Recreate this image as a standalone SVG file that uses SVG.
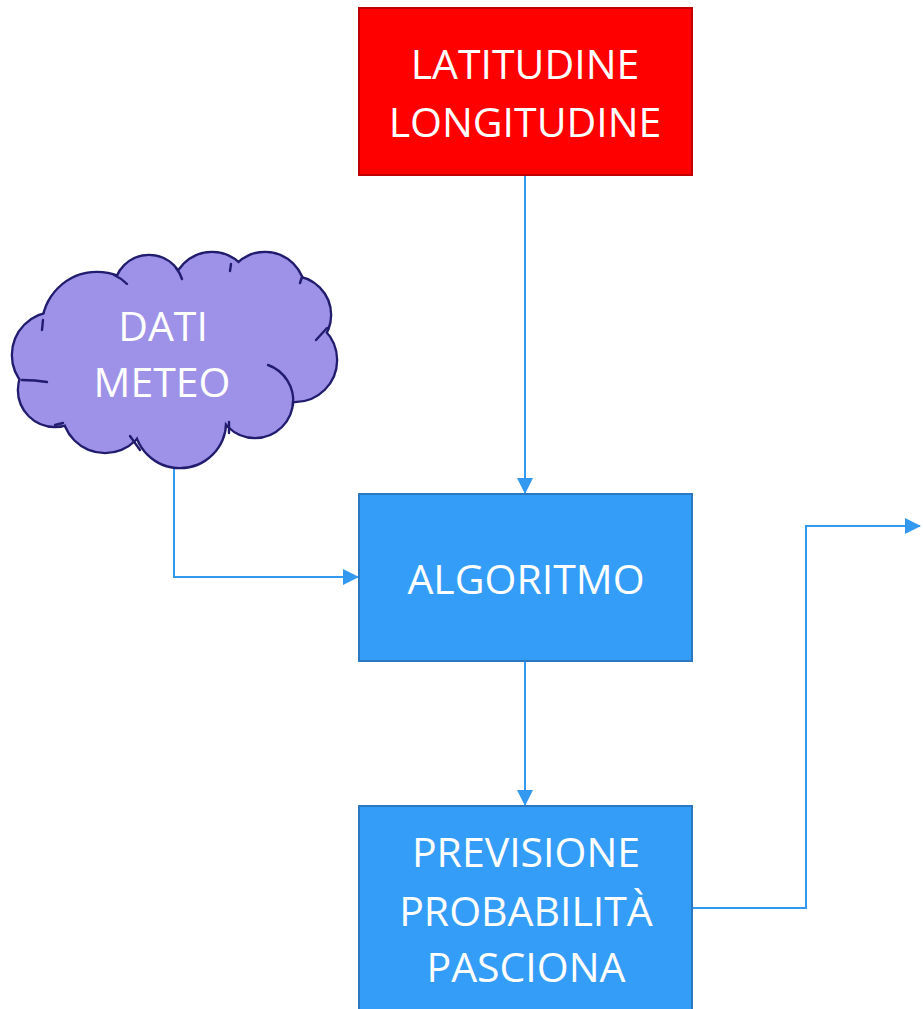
<svg xmlns="http://www.w3.org/2000/svg" width="923" height="1009" viewBox="0 0 923 1009">
<defs>
<marker id="arr" markerUnits="userSpaceOnUse" markerWidth="16" markerHeight="16" viewBox="0 0 16 16" refX="15" refY="8" orient="auto">
<path d="M0,0 L16,8 L0,16 Z" fill="#3399F0"/>
</marker>
</defs>
<style>
.lbl{font-family:"Open Sans","Liberation Sans",sans-serif;font-size:41px;fill:#ffffff;text-anchor:middle}
.blue{fill:#349DF8;stroke:#2B78C2;stroke-width:2}
.conn{fill:none;stroke:#3399F0;stroke-width:2}
.cs{fill:#9E92E8;stroke:#211C6E;stroke-width:4.6}
.cf{fill:#9E92E8;stroke:none}
.ci{fill:none;stroke:#211C6E;stroke-width:2.4;stroke-linecap:round}
</style>
<rect width="923" height="1009" fill="#ffffff"/>
<g id="connectors">
<path class="conn" d="M525,176 V493" marker-end="url(#arr)"/>
<path class="conn" d="M174,467 V577 H358" marker-end="url(#arr)"/>
<path class="conn" d="M525,662 V805" marker-end="url(#arr)"/>
<path class="conn" d="M693,908 H806 V526 H920" marker-end="url(#arr)"/>
</g>
<g id="latlon">
<rect x="359" y="8" width="333" height="167" fill="#FF0000" stroke="#C00000" stroke-width="2"/>
<text class="lbl" x="525" y="79">LATITUDINE</text>
<text class="lbl" x="525" y="137">LONGITUDINE</text>
</g>
<g id="meteo">
<circle class="cs" cx="97" cy="327" r="54"/>
<circle class="cs" cx="149" cy="290" r="34"/>
<circle class="cs" cx="212" cy="292" r="39"/>
<circle class="cs" cx="265" cy="292" r="39"/>
<circle class="cs" cx="292" cy="315" r="38"/>
<circle class="cs" cx="295" cy="360" r="41"/>
<circle class="cs" cx="255" cy="400" r="37"/>
<circle class="cs" cx="180" cy="422" r="45"/>
<circle class="cs" cx="105" cy="410" r="42"/>
<circle class="cs" cx="55" cy="390" r="36"/>
<circle class="cs" cx="55" cy="355" r="42"/>
<circle class="cf" cx="97" cy="327" r="54"/>
<circle class="cf" cx="149" cy="290" r="34"/>
<circle class="cf" cx="212" cy="292" r="39"/>
<circle class="cf" cx="265" cy="292" r="39"/>
<circle class="cf" cx="292" cy="315" r="38"/>
<circle class="cf" cx="295" cy="360" r="41"/>
<circle class="cf" cx="255" cy="400" r="37"/>
<circle class="cf" cx="180" cy="422" r="45"/>
<circle class="cf" cx="105" cy="410" r="42"/>
<circle class="cf" cx="55" cy="390" r="36"/>
<circle class="cf" cx="55" cy="355" r="42"/>
<ellipse class="cf" cx="175" cy="360" rx="120" ry="65"/>
<path class="ci" d="M114,275 Q121,278 127,284"/>
<path class="ci" d="M176,268 A35,35 0 0 1 182,279"/>
<path class="ci" d="M231,264 L230,271"/>
<path class="ci" d="M302,277 L300,283"/>
<path class="ci" d="M327,328 L316,340"/>
<path class="ci" d="M268,365 A38,38 0 0 1 293,405"/>
<path class="ci" d="M229,422 L229,433"/>
<path class="ci" d="M130,436 L140,450"/>
<path class="ci" d="M55,425 L63,423"/>
<path class="ci" d="M22,380 Q35,380 47,382"/>
<path class="ci" d="M42,330 L43,320"/>
<text class="lbl" x="163" y="341">DATI</text>
<text class="lbl" x="162" y="397">METEO</text>
</g>
<g id="algoritmo">
<rect class="blue" x="359" y="494" width="333" height="167"/>
<text class="lbl" x="526" y="594">ALGORITMO</text>
</g>
<g id="previsione">
<rect class="blue" x="359" y="806" width="333" height="210"/>
<text class="lbl" x="526" y="867">PREVISIONE</text>
<text class="lbl" x="526" y="926">PROBABILITÀ</text>
<text class="lbl" x="526" y="982">PASCIONA</text>
</g>
</svg>
